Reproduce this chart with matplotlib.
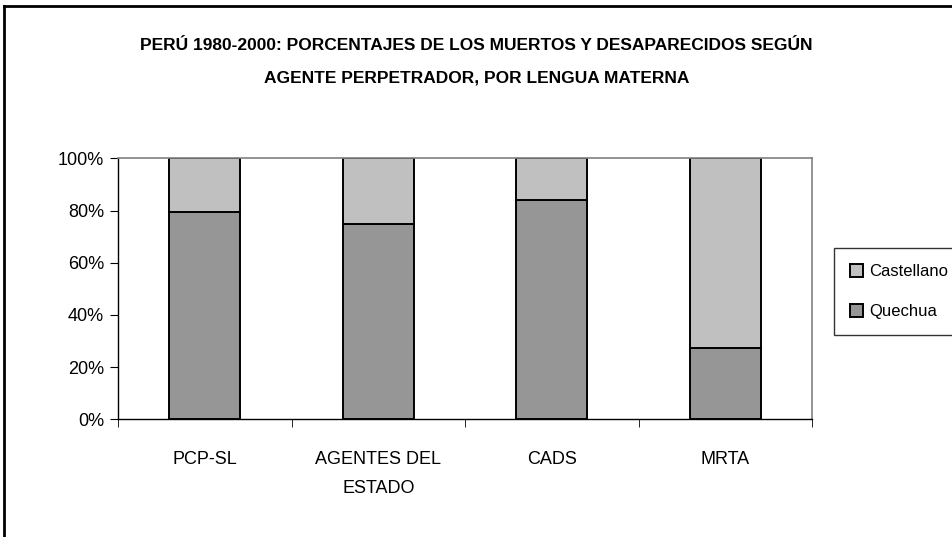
import numpy as np
import matplotlib.pyplot as plt
from matplotlib.lines import Line2D

plt.rcParams['font.family'] = ['Liberation Sans Narrow', 'Liberation Sans', 'DejaVu Sans']

# datos (porcentajes)
categorias = ['PCP-SL', 'AGENTES DEL\nESTADO', 'CADS', 'MRTA']
quechua = np.array([79.4, 75.0, 84.0, 27.4])
castellano = 100 - quechua

fig = plt.figure(figsize=(9.53, 5.37), dpi=100)
ax = fig.add_axes([118 / 953, 1 - 419.3 / 537, (812 - 118) / 953, (419.3 - 158.3) / 537])

x = np.arange(len(categorias))
ax.bar(x, quechua, width=0.41, color='#969696', edgecolor='black', linewidth=1.4, label='Quechua')
ax.bar(x, castellano, width=0.41, bottom=quechua, color='#C0C0C0', edgecolor='black',
       linewidth=1.4, label='Castellano')

ax.set_xlim(-0.5, len(categorias) - 0.5)
ax.set_ylim(0, 100)
ax.set_yticks(np.arange(0, 101, 20))
ax.set_yticklabels([f'{v}%' for v in range(0, 101, 20)], fontsize=13)
ax.set_xticks(x)
ax.set_xticklabels(categorias, fontsize=13, linespacing=1.9, va='top')
ax.set_xticks(np.arange(-0.5, len(categorias), 1), minor=True)
ax.tick_params(axis='x', which='major', length=0, pad=23)
ax.tick_params(axis='x', which='minor', length=6, direction='out', color='black')
ax.tick_params(axis='y', length=6, direction='out', color='black', pad=4)

for s in ['top', 'right']:
    ax.spines[s].set_color('#808080')
    ax.spines[s].set_linewidth(1.2)
for s in ['left', 'bottom']:
    ax.spines[s].set_color('black')
    ax.spines[s].set_linewidth(1.0)

fig.text(0.5, 1 - 45 / 537, 'PERÚ 1980-2000: PORCENTAJES DE LOS MUERTOS Y DESAPARECIDOS SEGÚN',
         ha='center', va='center', fontsize=12.5, fontweight='bold')
fig.text(0.5, 1 - 78 / 537, 'AGENTE PERPETRADOR, POR LENGUA MATERNA',
         ha='center', va='center', fontsize=12.5, fontweight='bold')

handles, labels = ax.get_legend_handles_labels()
leg = fig.legend(handles[::-1], labels[::-1], loc='upper left',
                 bbox_to_anchor=(834 / 953, 1 - 248 / 537), fontsize=12,
                 frameon=True, fancybox=False, edgecolor='black', handlelength=0.8,
                 handleheight=0.8, handletextpad=0.35, labelspacing=1.5, borderpad=0.95,
                 borderaxespad=0)
leg.get_frame().set_linewidth(1.0)

# borde exterior del grafico
fig.add_artist(Line2D([4 / 953, 4 / 953], [0, 1 - 6 / 537], color='black', linewidth=2))
fig.add_artist(Line2D([4 / 953, 1], [1 - 6 / 537, 1 - 6 / 537], color='black', linewidth=2))

fig.savefig('out.png', dpi=100)
